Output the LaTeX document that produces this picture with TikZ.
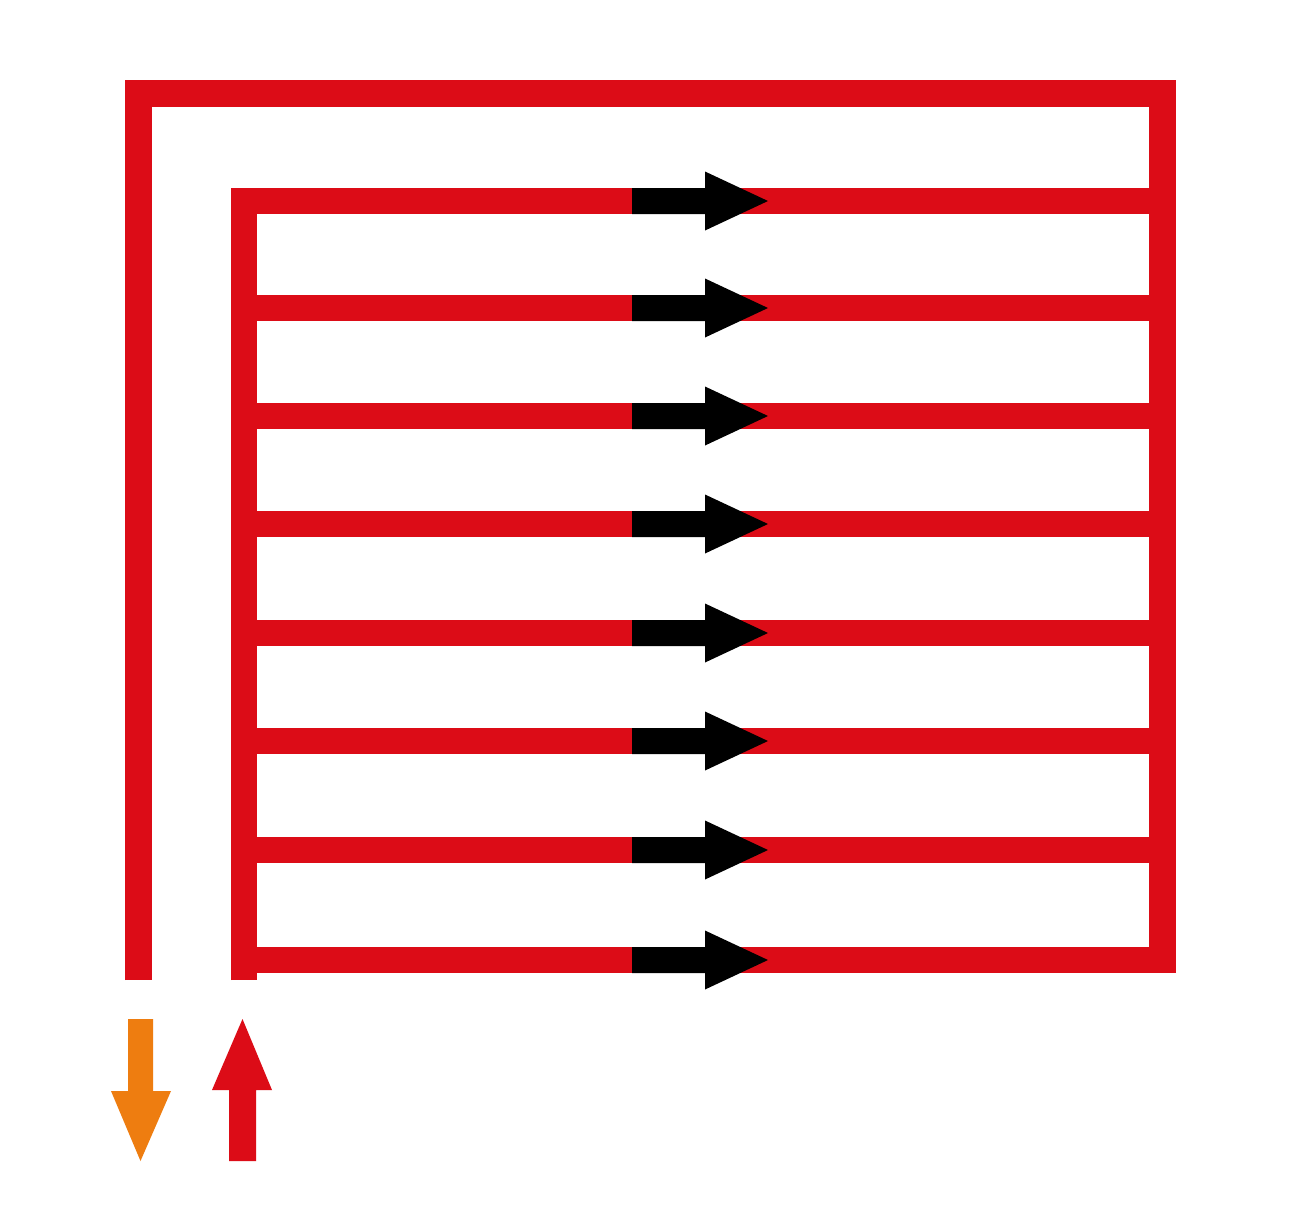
\documentclass[tikz,border=0pt]{standalone}
\begin{document}
\begin{tikzpicture}[x=1pt,y=-1pt,
  pipe/.style={draw=pipered,line width=26.5pt,line join=miter,line cap=butt},
  flowarrow/.style={fill=black,draw=none}]
\definecolor{pipered}{HTML}{DC0C17}
\definecolor{outorange}{HTML}{EE7D10}
\fill[white] (0,0) rectangle (1302,1208);
\useasboundingbox (0,0) rectangle (1302,1208);
% coordinates
\coordinate (oStart) at (138.5,980);
\coordinate (oTL) at (138.5,93.5);
\coordinate (oTR) at (1162.5,93.5);
\coordinate (oBR) at (1162.5,960);
\coordinate (iBot) at (244,960);
\coordinate (iStart) at (244,980);
\coordinate (iTL) at (244,201);
\coordinate (iTR) at (1162.5,201);
% outer supply/return loop
\draw[pipe] (oStart) -- (oTL) -- (oTR) -- (oBR) -- (iBot);
\draw[pipe] (iStart) -- (iTL) -- (iTR);
% middle rows
\foreach \yy in {308,416,524,633,741,850}{
  \coordinate (rL) at (244,\yy);
  \coordinate (rR) at (1162.5,\yy);
  \draw[pipe] (rL) -- (rR);
}
% black flow arrows
\foreach \yy in {201,308,416,524,633,741,850,960}{
  \fill[flowarrow] (632,\yy-13) -- (705,\yy-13) -- (705,\yy-29.5) -- (768,\yy)
     -- (705,\yy+29.5) -- (705,\yy+13) -- (632,\yy+13) -- cycle;
}
% orange outlet arrow (down)
\fill[outorange] (128,1019) -- (153,1019) -- (153,1091) -- (171,1091) -- (140.5,1161)
   -- (111,1091) -- (128,1091) -- cycle;
% red inlet arrow (up)
\fill[pipered] (229,1161) -- (256,1161) -- (256,1090) -- (272,1090) -- (242.5,1019)
   -- (212,1090) -- (229,1090) -- cycle;
\end{tikzpicture}
\end{document}
